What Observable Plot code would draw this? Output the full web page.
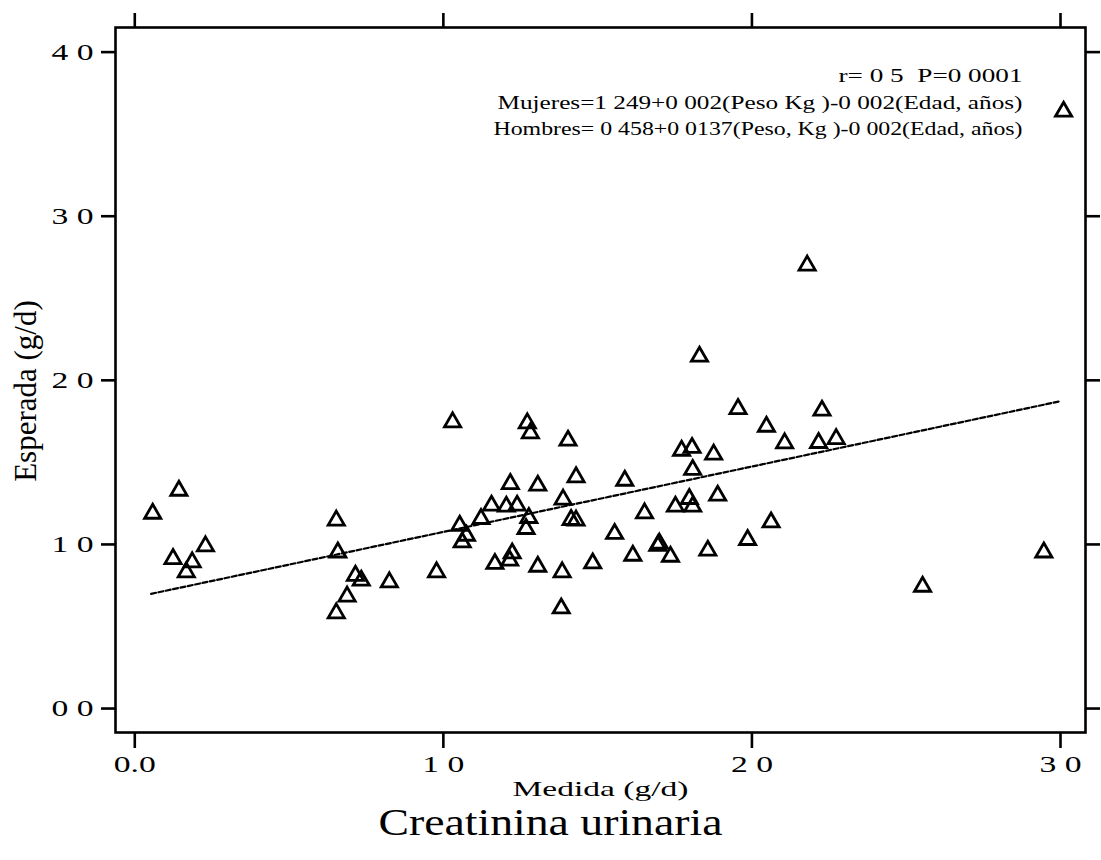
<!DOCTYPE html>
<html><head><meta charset="utf-8">
<script src="https://cdn.jsdelivr.net/npm/d3@7"></script>
<script src="https://cdn.jsdelivr.net/npm/@observablehq/plot@0.6"></script>
<style>
body{margin:0;background:#fff;}
</style></head><body><div id="chart"></div>
<script>
// Creatinina urinaria: medida (x) vs esperada (y), g/d
const medida = [0.143,0.058,0.229,0.124,0.186,0.167,0.653,0.658,0.715,0.734,0.688,0.653,0.825,0.978,
  1.030,1.272,1.282,1.404,1.955,2.047,1.772,1.806,1.876,1.808,1.430,1.588,1.217,1.306,1.156,1.204,
  1.239,1.388,1.797,1.808,1.752,1.889,1.652,1.122,1.277,1.268,1.414,1.430,1.053,1.075,1.061,2.062,
  1.555,1.986,1.695,1.700,1.223,1.215,1.614,1.736,1.857,1.484,1.167,1.306,1.385,1.382,2.179,1.830,
  2.227,2.106,2.216,2.273,2.553,2.946,3.010];
const esperada = [1.328,1.188,0.989,0.912,0.892,0.831,1.146,0.952,0.810,0.780,0.683,0.581,0.770,0.831,
  1.745,1.739,1.678,1.633,1.826,1.718,1.572,1.589,1.548,1.455,1.410,1.389,1.369,1.359,1.237,1.231,
  1.237,1.274,1.278,1.231,1.231,1.298,1.190,1.156,1.162,1.095,1.150,1.146,1.115,1.054,1.013,1.135,
  1.065,1.028,0.993,1.006,0.946,0.902,0.932,0.926,0.963,0.885,0.882,0.865,0.831,0.611,2.700,2.145,
  1.816,1.617,1.619,1.643,0.743,0.952,3.638];
// regression line endpoints
const fitX = [0.053, 3.0];
const fitY = [0.699, 1.873];
const xTicks = [0, 1, 2, 3];
const xTickLabels = ["0.0", "1 0", "2 0", "3 0"];
const yTicks = [0, 1, 2, 3, 4];
const yTickLabels = ["0 0", "1 0", "2 0", "3 0", "4 0"];
const statsLines = [
  "r= 0 5\u00a0 P=0 0001",
  "Mujeres=1 249+0 002(Peso Kg )-0 002(Edad, años)",
  "Hombres= 0 458+0 0137(Peso, Kg )-0 002(Edad, años)"
];
const statsWidths = [184, 525, 529];
const xLabel = "Medida (g/d)";
const yLabel = "Esperada (g/d)";
const title = "Creatinina urinaria";

const points = medida.map((x, i) => ({x, y: esperada[i]}));
const fit = fitX.map((x, i) => ({x, y: fitY[i]}));

const chart = Plot.plot({
  width: 1101, height: 860,
  marginLeft: 115, marginRight: 16, marginTop: 27, marginBottom: 128,
  style: {fontFamily: '"Liberation Serif", "Times New Roman", serif', background: "white", color: "black", overflow: "visible"},
  x: {domain: [-0.0625, 3.081]},
  y: {domain: [-0.146, 4.15]},
  marks: [
    Plot.frame({stroke: "black", strokeWidth: 2.6}),
    Plot.axisX(xTicks, {anchor: "bottom", tickSize: 16, tickPadding: 6, strokeWidth: 2.6, fontSize: 24,
      tickFormat: d => xTickLabels[xTicks.indexOf(d)], label: null}),
    Plot.axisX(xTicks, {anchor: "top", tickSize: 15, strokeWidth: 2.6, tickFormat: () => "", label: null}),
    Plot.axisY(yTicks, {anchor: "left", tickSize: 14, tickPadding: 8, strokeWidth: 2.6, fontSize: 24,
      tickFormat: d => yTickLabels[yTicks.indexOf(d)], label: null}),
    Plot.axisY(yTicks, {anchor: "right", tickSize: 14, strokeWidth: 2.6, tickFormat: () => "", label: null}),
    Plot.line(fit, {x: "x", y: "y", stroke: "black", strokeWidth: 2.2, strokeDasharray: "5,2.5"}),
    Plot.dot(points, {x: "x", y: "y", symbol: "triangle", r: 6, stroke: "black", strokeWidth: 2.8, fill: "none"}),
    ...statsLines.map((s, i) => Plot.text([s], {frameAnchor: "top-right", textAnchor: "end", dx: -63, dy: 41 + i * 26.5, fontSize: 19})),
    Plot.text([xLabel], {frameAnchor: "bottom", dy: 63, fontSize: 22}),
    Plot.text([title], {frameAnchor: "bottom", dx: -50, dy: 102, fontSize: 38}),
    Plot.text([yLabel], {frameAnchor: "left", textAnchor: "middle", rotate: -90, dx: -89, dy: 11, fontSize: 31})
  ]
});
document.getElementById("chart").append(chart);
const svg = d3.select(chart);
const stretch = (sel, k) => sel.each(function() {
  const l = this.getComputedTextLength();
  if (l > 0) { this.setAttribute("textLength", l * k); this.setAttribute("lengthAdjust", "spacingAndGlyphs"); }
});
stretch(svg.selectAll('g[aria-label="x-axis tick label"] text, g[aria-label="y-axis tick label"] text'), 1.4);
const byText = (t) => svg.selectAll("text").filter(function() { return this.textContent === t; });
const fixLen = (t, len) => byText(t).attr("textLength", len).attr("lengthAdjust", "spacingAndGlyphs");
statsLines.forEach((s, i) => fixLen(s, statsWidths[i]));
fixLen(xLabel, 176);
fixLen(title, 344);
</script></body></html>
